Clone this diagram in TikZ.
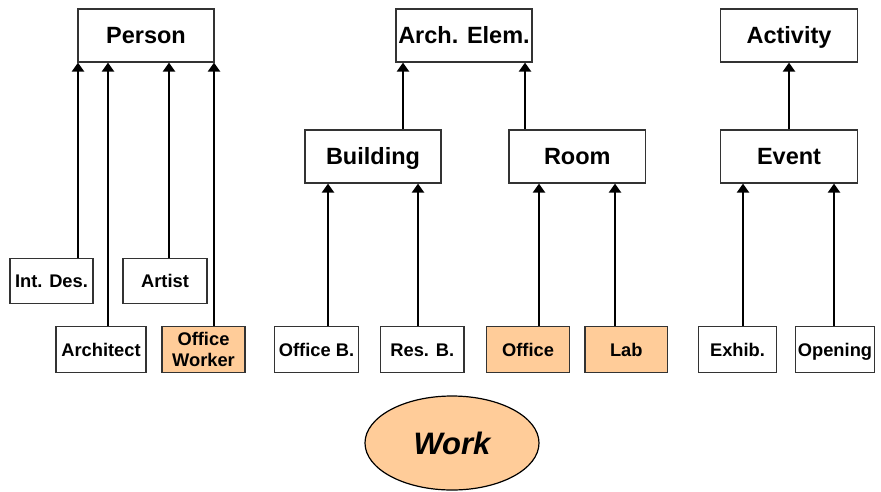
\documentclass[tikz,border=0pt]{standalone}
\usepackage{fontspec}
\setmainfont{Liberation Sans}
\usetikzlibrary{arrows.meta,shapes.geometric}
\definecolor{peach}{HTML}{FFCC99}
\definecolor{edge}{HTML}{333333}
\tikzset{
  bigbox/.style={draw=edge, line width=1.2pt, fill=white, inner sep=0pt,
    minimum height=53pt, text height=16.8pt, text depth=0pt,
    font=\fontsize{23.5}{26}\selectfont\bfseries},
  smallbox/.style={draw=edge, line width=1.2pt, fill=white, inner sep=0pt,
    minimum height=45.5pt, text height=13.1pt, text depth=0pt, align=center,
    font=\fontsize{18.3}{21.5}\selectfont\bfseries},
  hl/.style={fill=peach},
  arr/.style={line width=2.9pt, -{Triangle[width=12pt,length=9pt]}}
}
\begin{document}
\begin{tikzpicture}[x=1pt,y=-1pt]
\useasboundingbox (0,0) rectangle (881,491);
% top level
\node[bigbox, minimum width=136pt] (person) at (146,35.5) {Person};
\node[bigbox, minimum width=136pt] (archelem) at (464,35.5) {Arch. Elem.};
\node[bigbox, minimum width=136.6pt] (activity) at (789,35.5) {Activity};
% middle level
\node[bigbox, minimum width=136pt] (building) at (373,156.5) {Building};
\node[bigbox, minimum width=136.6pt] (room) at (577.3,156.5) {Room};
\node[bigbox, minimum width=136.6pt] (event) at (789,156.5) {Event};
% lower boxes
\node[smallbox, minimum width=83pt] (intdes) at (51.5,281) {Int. Des.};
\node[smallbox, minimum width=84pt] (artist) at (165,281) {Artist};
\node[smallbox, minimum width=90pt] (architect) at (101,349.5) {Architect};
\node[smallbox, hl, minimum width=83pt, text height=34.6pt] (offworker) at (203.5,349.5) {Office\\Worker};
\node[smallbox, minimum width=83.6pt] (officeb) at (316.5,349.5) {Office B.};
\node[smallbox, minimum width=83.3pt] (resb) at (422.3,349.5) {Res. B.};
\node[smallbox, hl, minimum width=82.6pt] (office) at (528,349.5) {Office};
\node[smallbox, hl, minimum width=82.7pt] (lab) at (626.3,349.5) {Lab};
\node[smallbox, minimum width=78.4pt] (exhib) at (737.5,349.5) {Exhib.};
\node[smallbox, minimum width=78.3pt] (opening) at (835,349.5) {Opening};
% ellipse
\node[ellipse, draw=black, line width=1.2pt, fill=peach, minimum width=174pt,
  minimum height=94pt, inner sep=0pt, text height=22.2pt, text depth=0pt,
  font=\fontsize{31}{34}\selectfont\bfseries\itshape]
  (work) at (452,443) {Work};
% arrows
\draw[arr] (intdes.north -| 78,0) -- (person.south -| 78,0);
\draw[arr] (architect.north -| 108,0) -- (person.south -| 108,0);
\draw[arr] (artist.north -| 169,0) -- (person.south -| 169,0);
\draw[arr] (offworker.north -| 214,0) -- (person.south -| 214,0);
\draw[arr] (building.north -| 403,0) -- (archelem.south -| 403,0);
\draw[arr] (room.north -| 525,0) -- (archelem.south -| 525,0);
\draw[arr] (officeb.north -| 328,0) -- (building.south -| 328,0);
\draw[arr] (resb.north -| 418,0) -- (building.south -| 418,0);
\draw[arr] (office.north -| 539,0) -- (room.south -| 539,0);
\draw[arr] (lab.north -| 615,0) -- (room.south -| 615,0);
\draw[arr] (event.north) -- (activity.south);
\draw[arr] (exhib.north -| 743,0) -- (event.south -| 743,0);
\draw[arr] (opening.north -| 834,0) -- (event.south -| 834,0);
\end{tikzpicture}
\end{document}
